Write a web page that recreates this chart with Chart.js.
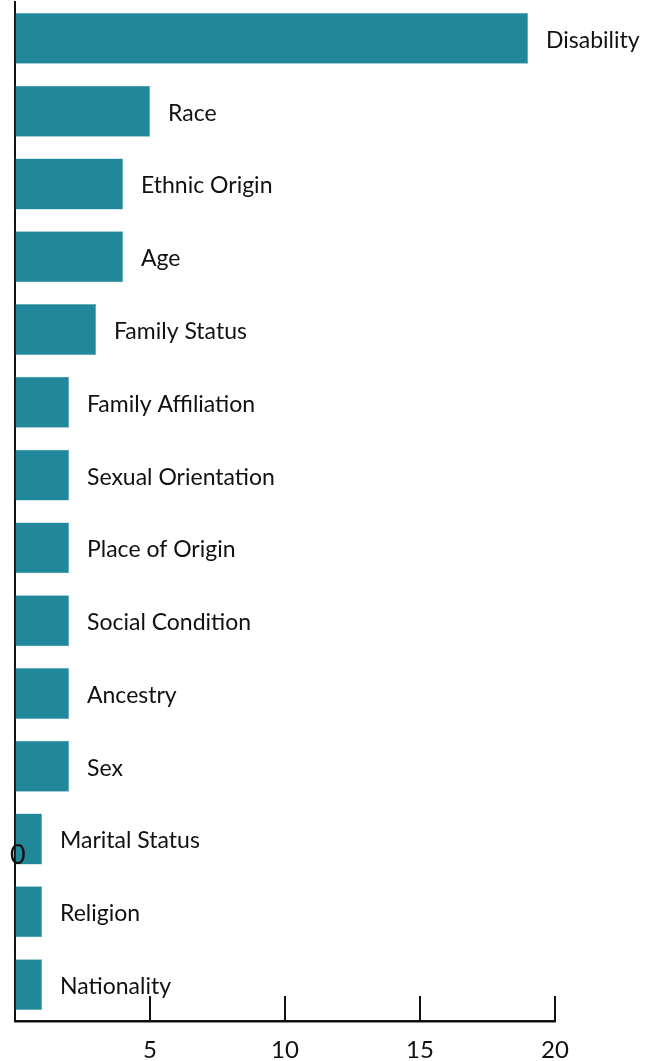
<!DOCTYPE html>
<html>
<head>
<meta charset="utf-8">
<script src="https://cdn.jsdelivr.net/npm/chart.js@4"></script>
<style>
  html, body { margin: 0; padding: 0; background: #fff; }
  #wrap { width: 667px; height: 1061px; }
</style>
</head>
<body>
<div id="wrap"><canvas id="grounds"></canvas></div>
<script>
// Grounds of discrimination, number of cases
const grounds = ['Disability', 'Race', 'Ethnic Origin', 'Age', 'Family Status',
  'Family Affiliation', 'Sexual Orientation', 'Place of Origin', 'Social Condition',
  'Ancestry', 'Sex', 'Marital Status', 'Religion', 'Nationality'];
const cases = [19, 5, 4, 4, 3, 2, 2, 2, 2, 2, 2, 1, 1, 1];
const xTicks = [0, 5, 10, 15, 20];

const FONT = 'Lato, "Open Sans", sans-serif';

// labels to the right of each bar, plus inward tick marks and the stray "0"
const extras = {
    id: 'extras',
    afterDatasetsDraw(chart) {
        const ctx = chart.ctx;
        const meta = chart.getDatasetMeta(0);
        ctx.save();
        ctx.fillStyle = '#111';
        ctx.font = '23px ' + FONT;
        ctx.textBaseline = 'middle';
        meta.data.forEach((bar, i) => {
            ctx.fillText(grounds[i], bar.x + 18, bar.y + 2);
        });

        const x = chart.scales.x;
        const y = chart.scales.y;
        const bottom = chart.chartArea.bottom;
        ctx.strokeStyle = '#111';
        ctx.lineWidth = 2;
        xTicks.forEach(v => {
            if (v === 0) return;
            const px = Math.round(x.getPixelForValue(v));
            ctx.beginPath();
            ctx.moveTo(px, bottom - 25);
            ctx.lineTo(px, bottom);
            ctx.stroke();
        });

        ctx.font = '27px ' + FONT;
        ctx.textAlign = 'left';
        ctx.fillText('0', x.getPixelForValue(0) - 5, y.getPixelForValue(11) + 16);
        ctx.restore();
    }
};

new Chart(document.getElementById('grounds'), {
    type: 'bar',
    data: {
        labels: grounds,
        datasets: [{
            data: cases,
            backgroundColor: '#21879b',
            borderColor: '#5fa9b7',
            borderWidth: 0.5,
            barPercentage: 0.7,
            categoryPercentage: 1
        }]
    },
    options: {
        indexAxis: 'y',
        responsive: true,
        maintainAspectRatio: false,
        animation: false,
        layout: { padding: { left: 14, right: 112, top: 2, bottom: 0 } },
        plugins: {
            legend: { display: false },
            tooltip: { enabled: false }
        },
        scales: {
            x: {
                min: 0,
                max: 20,
                afterFit: s => { s.height = 40; },
                afterBuildTicks: s => { s.ticks = xTicks.map(v => ({ value: v })); },
                ticks: {
                    color: '#111',
                    font: { family: FONT, size: 24 },
                    padding: 15,
                    maxRotation: 0,
                    callback: v => (v === 0 ? '' : v)
                },
                grid: { drawOnChartArea: false, drawTicks: false },
                border: { color: '#111', width: 2.5 }
            },
            y: {
                afterFit: s => { s.width = 0; },
                ticks: { display: false },
                grid: { drawOnChartArea: false, drawTicks: false },
                border: { color: '#111', width: 2 }
            }
        }
    },
    plugins: [extras]
});
</script>
</body>
</html>
